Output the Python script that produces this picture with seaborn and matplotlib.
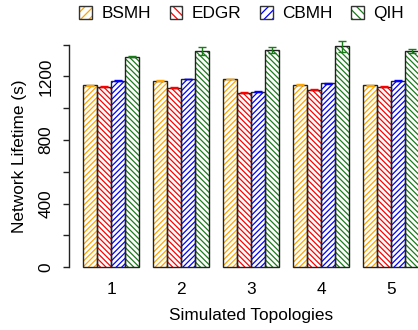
import matplotlib
matplotlib.use("Agg")
import matplotlib.pyplot as plt
from matplotlib.patches import Patch, Rectangle
import seaborn as sns
import pandas as pd
import numpy as np

topologies = ["1", "2", "3", "4", "5"]
algorithms = ["BSMH", "EDGR", "CBMH", "QIH"]
bsmh = [1146, 1173, 1184, 1148, 1144]
edgr = [1135, 1129, 1098, 1117, 1135]
cbmh = [1173, 1184, 1104, 1157, 1173]
qih = [1324, 1360, 1364, 1391, 1360]
bsmh_err = [3, 3, 3, 3, 3]
edgr_err = [3, 3, 3, 3, 3]
cbmh_err = [3, 3, 3, 3, 3]
qih_err = [4, 23, 19, 35, 14]
colors = ["#FFA500", "#FF0000", "#0000FF", "#1a7a1a"]
hatches = ["/" * 6, "\\" * 6, "/" * 6, "\\" * 6]

values = [bsmh, edgr, cbmh, qih]
errors = [bsmh_err, edgr_err, cbmh_err, qih_err]
rows = []
for a, vals in zip(algorithms, values):
    for t, v in zip(topologies, vals):
        rows.append({"Topology": t, "Algorithm": a, "Lifetime": v})
df = pd.DataFrame(rows)

sns.set_style("white")
plt.rcParams["font.family"] = ["Liberation Sans", "DejaVu Sans"]
plt.rcParams["hatch.linewidth"] = 0.9
plt.rcParams["text.color"] = "black"
plt.rcParams["axes.labelcolor"] = "black"
plt.rcParams["xtick.color"] = "black"
plt.rcParams["ytick.color"] = "black"

FS = 12.4

fig = plt.figure(figsize=(4.18, 3.30), dpi=100)
ax = fig.add_axes([0.1658, 0.1612, 0.8677, 0.7324])

sns.barplot(data=df, x="Topology", y="Lifetime", hue="Algorithm",
            order=topologies, hue_order=algorithms, palette=colors,
            errorbar=None, width=0.8, ax=ax, legend=False, linewidth=0)

for i, alg in enumerate(algorithms):
    cont = ax.containers[i]
    for j, p in enumerate(cont.patches):
        p.set_facecolor("white")
        p.set_edgecolor(colors[i])
        p.set_hatch(hatches[i])
        p.set_linewidth(0)
        ax.add_patch(Rectangle(p.get_xy(), p.get_width(), p.get_height(),
                               fill=False, edgecolor="#222222", linewidth=1.0,
                               zorder=p.get_zorder() + 0.1))
    xs = [p.get_x() + p.get_width() / 2 for p in cont.patches]
    ax.errorbar(xs, values[i], yerr=errors[i], fmt="none", ecolor=colors[i],
                elinewidth=1.0, capsize=3, capthick=1.0, zorder=5)

ax.set_xlim(-0.596, 4.586)
ax.set_ylim(-60, 1460)
for s in ["top", "right", "bottom"]:
    ax.spines[s].set_visible(False)
ax.spines["left"].set_bounds(0, 1400)
ax.spines["left"].set_color("#222222")
ax.spines["left"].set_linewidth(1.0)
ax.set_yticks(np.arange(0, 1401, 200))
ax.set_yticklabels(["0", "", "400", "", "800", "", "1200", ""],
                   rotation=90, va="center")
ax.tick_params(axis="y", length=4.3, width=1.0, color="#222222", pad=7,
               labelsize=FS, left=True)
ax.tick_params(axis="x", length=0, pad=4, labelsize=FS)
ax.set_xlabel("Simulated Topologies", fontsize=FS, labelpad=8)
ax.set_ylabel("Network Lifetime (s)", fontsize=FS, labelpad=8)

handles = []
for i, alg in enumerate(algorithms):
    h1 = Patch(facecolor="white", edgecolor=colors[i], hatch=hatches[i][:4], linewidth=0)
    h2 = Patch(facecolor="none", edgecolor="#333333", linewidth=1.0)
    handles.append((h1, h2))
fig.legend(handles, algorithms, loc="center", bbox_to_anchor=(0.578, 0.958),
           ncol=4, frameon=False, fontsize=FS, handlelength=0.72,
           handleheight=0.72, handletextpad=0.55, columnspacing=1.1,
           borderaxespad=0)

fig.savefig("out.png", dpi=100)
